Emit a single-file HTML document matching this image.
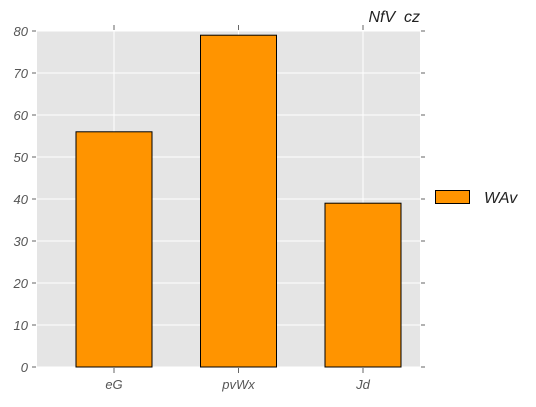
<!DOCTYPE html>
<html><head><meta charset="utf-8"><style>
html,body{margin:0;padding:0;background:#fff;}
svg text{font-family:"Liberation Sans",sans-serif;font-style:italic;}
</style></head><body>
<svg width="536" height="402" xmlns="http://www.w3.org/2000/svg">
<script>
const categories=["eG","pvWx","Jd"];
const values=[56,79,39];
const yTicks=[0,10,20,30,40,50,60,70,80];
</script>
<g id="g"></g>
<script>
(function(){
const ns="http://www.w3.org/2000/svg",g=document.getElementById('g');
const L=37,R=420,T=31,B=367;
const y=v=>B-(v/80)*(B-T);
const x=i=>114+i*124.5;
function mk(t,a,txt){const e=document.createElementNS(ns,t);for(const k in a)e.setAttribute(k,a[k]);if(txt!=null)e.textContent=txt;g.appendChild(e);return e;}
let e=mk('rect',{x:L,y:T,width:R-L,height:B-T,fill:'#e5e5e5'});


yTicks.forEach(v=>{
 e=mk('line',{x1:L,x2:R,y1:y(v),y2:y(v),stroke:'#fff','stroke-width':1});
 
 
 mk('line',{x1:L-5,x2:L-1,y1:y(v),y2:y(v),stroke:'#666'});
 mk('line',{x1:R+1,x2:R+5,y1:y(v),y2:y(v),stroke:'#666'});
 e=mk('text',{x:L-9,y:y(v)+5,'text-anchor':'end','font-size':13,fill:'#555'},v);
 
 
});
categories.forEach((c,i)=>{
 e=mk('line',{x1:x(i),x2:x(i),y1:T,y2:B,stroke:'#fff'});
 
 
 mk('line',{x1:x(i),x2:x(i),y1:T-6,y2:T-1,stroke:'#666'});
 mk('line',{x1:x(i),x2:x(i),y1:B+1,y2:B+6,stroke:'#666'});
 e=mk('text',{x:x(i),y:B+22,'text-anchor':'middle','font-size':13,fill:'#555'},c);
 
 
});
categories.forEach((c,i)=>{
 e=mk('rect',{x:x(i)-38,y:y(values[i]),width:76,height:B-y(values[i]),fill:'#ff9400',stroke:'#000','stroke-width':1});
 
 
});
e=mk('text',{x:420,y:22,'text-anchor':'end','font-size':16,fill:'#222'},'NfV\u00a0\u00a0cz');


e=mk('rect',{x:435.5,y:190.5,width:34,height:13,fill:'#ff9400',stroke:'#000'});


e=mk('text',{x:484,y:203,'font-size':16,fill:'#222'},'WAv');


})();
</script>
</svg>
</body></html>
